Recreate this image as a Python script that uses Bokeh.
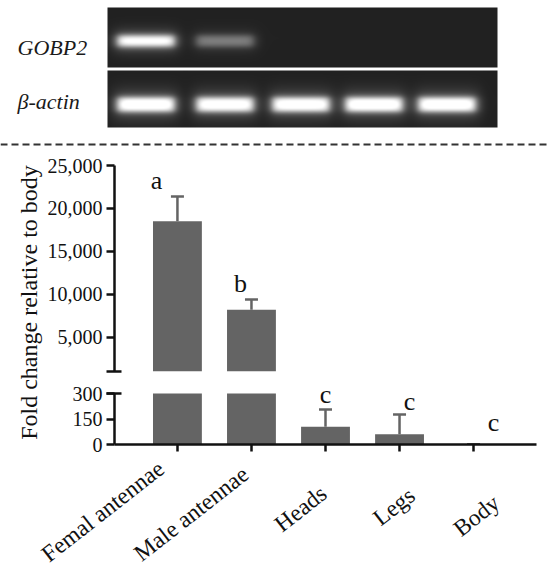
import numpy as np
from math import pi
from bokeh.plotting import figure
from bokeh.layouts import column, row
from bokeh.models import (Range1d, FactorRange, ColumnDataSource, FixedTicker,
                          NumeralTickFormatter, Whisker, TeeHead, LabelSet)
from bokeh.core.properties import value
from bokeh.embed import file_html
from bokeh.resources import INLINE

# ---------------- data ----------------
tissues = ["Femal antennae", "Male antennae", "Heads", "Legs", "Body"]
fold_change = [18500, 8200, 105, 60, 1]
fold_error = [2900, 1200, 101, 116, 0]
letters = ["a", "b", "c", "c", "c"]
gene_names = ["GOBP2", "β-actin"]
gobp2_band = [0.95, 0.38, 0.0, 0.0, 0.0]
actin_band = [1.0, 0.97, 0.98, 1.0, 1.0]
upper_ticks = [5000, 10000, 15000, 20000, 25000]
lower_ticks = [0, 150, 300]
upper_limits = [1000, 25000]
lower_limits = [0, 300]
y_title = "Fold change relative to body"

# ---------------- styles / layout ----------------
SERIF = value("Liberation Serif")
BAR = "#646464"
AX = "#111111"
TXT = "#111111"
letter_dx = [-21, -11, 0, 10, 20]
letter_dy = [7, 7, 6, 5, 13]
label_dx = [-73, -59, -24, -5, 3]        # label centre offset from tick (px)
label_cy = [510.5, 513, 508, 506, 515]   # label centre (page px)
LABEL_ANGLE = 38 * pi / 180

W = 550
LW = 44                     # width of the y-title strip
FRAME_L, FRAME_R = 112, 536
PAD = 0.35
UNIT = (FRAME_R - FRAME_L) / (len(tissues) + 2 * PAD)

# gel layout (pixels)
GEL_X0, GEL_W = 107, 390
LANE_CX = [38, 117, 193, 266, 339]
BAND_W = 57


def gel_image(intensities, h, band_y, band_h):
    yy, xx = np.mgrid[0:h, 0:GEL_W].astype(float)
    img = np.full((h, GEL_W), 29.0)
    img += 5 * np.exp(-((yy - h / 2) / h) ** 2)
    for cx, s in zip(LANE_CX, intensities):
        if s <= 0:
            continue
        fx = 1 / (1 + np.exp(-(BAND_W / 2 - np.abs(xx - cx)) / 2.4))
        fy = 1 / (1 + np.exp(-(band_h / 2 - np.abs(yy - band_y)) / 1.7))
        halo = np.exp(-((np.abs(xx - cx) / (BAND_W / 2 + 6)) ** 6)) * \
            np.exp(-((yy - band_y) / (band_h * 1.1)) ** 2)
        img += s * (200 * fx * fy + 50 * halo)
    v = np.clip(img, 0, 255).astype(np.uint8)
    rgba = np.zeros((h, GEL_W, 4), dtype=np.uint8)
    rgba[..., 0] = v
    rgba[..., 1] = v
    rgba[..., 2] = v
    rgba[..., 3] = 255
    out = rgba.view(np.uint32).reshape(h, GEL_W)[::-1]
    return np.ascontiguousarray(out)


def blank(width, height, xr, yr):
    p = figure(width=width, height=height, x_range=xr, y_range=yr,
               output_backend="svg", toolbar_location=None, x_axis_type=None,
               y_axis_type=None, min_border=0)
    p.outline_line_color = None
    p.grid.visible = False
    return p


# ---------------- gel panel (page y 0..148; fig y = 148 - page y) ----------------
pA = blank(W, 148, Range1d(0, W), Range1d(0, 148))
pA.image_rgba(image=[gel_image(gobp2_band, 60, 33, 11)], x=GEL_X0, y=148 - 67, dw=GEL_W, dh=60)
pA.image_rgba(image=[gel_image(actin_band, 57, 33.5, 14)], x=GEL_X0, y=148 - 127, dw=GEL_W, dh=57)
pA.text(x=[17, 17], y=[148 - 47, 148 - 101], text=gene_names, text_font=SERIF,
        text_font_style="italic", text_font_size="22px", text_color="#1a1a1a",
        text_align="left", text_baseline="alphabetic")
pA.line(x=[0, W], y=[148 - 144, 148 - 144], line_dash="7 4", line_width=2,
        line_color="#333333")

# ---------------- y title panel (page y 148..454) ----------------
pL = blank(LW, 306, Range1d(0, LW), Range1d(0, 306))
pL.text(x=[28], y=[454 - 302], text=[y_title], angle=pi / 2, text_font=SERIF,
        text_font_size="24px", text_color=TXT, text_align="center",
        text_baseline="middle")

# ---------------- chart ----------------
xr = FactorRange(factors=tissues, range_padding=PAD, range_padding_units="absolute")

src = ColumnDataSource(dict(tissue=tissues, fc=fold_change,
                            fc_low=[min(v, lower_limits[1]) for v in fold_change],
                            top=[v + e for v, e in zip(fold_change, fold_error)],
                            letter=letters, dx=letter_dx, dy=letter_dy))
up_idx = [i for i, v in enumerate(fold_change) if v > lower_limits[1]]
lo_idx = [i for i, v in enumerate(fold_change) if v <= lower_limits[1]]


def subset(idx):
    return ColumnDataSource({k: [src.data[k][i] for i in idx] for k in src.data})


src_up, src_lo = subset(up_idx), subset(lo_idx)


def style_yaxis(p, ticks, minor, bounds):
    ax = p.yaxis[0]
    ax.ticker = FixedTicker(ticks=ticks, minor_ticks=minor)
    ax.formatter = NumeralTickFormatter(format="0,0")
    ax.bounds = tuple(bounds)
    ax.axis_line_width = 2.5
    ax.axis_line_color = AX
    ax.major_tick_line_width = 2.5
    ax.major_tick_line_color = AX
    ax.major_tick_in = 0
    ax.major_tick_out = 8
    ax.minor_tick_line_width = 2.5
    ax.minor_tick_line_color = AX
    ax.minor_tick_in = 7
    ax.minor_tick_out = 8
    ax.major_label_standoff = 4
    ax.major_label_text_font = "Liberation Serif"
    ax.major_label_text_font_size = "20px"
    ax.major_label_text_color = TXT


# upper segment: page y 148..373, frame 165..371
pB = figure(width=W - LW, height=225, x_range=xr, y_range=Range1d(*upper_limits),
            output_backend="svg", toolbar_location=None, x_axis_location=None,
            min_border_left=FRAME_L - LW, min_border_right=W - FRAME_R,
            min_border_top=17, min_border_bottom=2)
# lower segment: page y 373..454, frame 373..444 (300 sits at 393)
low_end = lower_limits[1] * (444 - 373) / (444 - 393)
pC = figure(width=W - LW, height=81, x_range=xr, y_range=Range1d(lower_limits[0], low_end),
            output_backend="svg", toolbar_location=None,
            min_border_left=FRAME_L - LW, min_border_right=W - FRAME_R,
            min_border_top=0, min_border_bottom=10)

for p in (pB, pC):
    p.outline_line_color = None
    p.grid.visible = False

pB.vbar(x="tissue", top="fc", bottom=upper_limits[0], width=0.66, source=src_up,
        fill_color=BAR, line_color=None)
pC.vbar(x="tissue", top="fc_low", bottom=0, width=0.66, source=src,
        fill_color=BAR, line_color=None)

style_yaxis(pB, upper_ticks, [upper_limits[0]], upper_limits)
style_yaxis(pC, lower_ticks, [lower_limits[1]], lower_limits)

xa = pC.xaxis[0]
xa.axis_line_width = 2.5
xa.axis_line_color = AX
xa.major_tick_line_width = 2.5
xa.major_tick_line_color = AX
xa.major_tick_in = 0
xa.major_tick_out = 7
xa.major_label_text_color = None
xa.major_label_text_font_size = "1px"
xa.major_label_standoff = 0

for p, s in ((pB, src_up), (pC, src_lo)):
    p.add_layout(Whisker(base="tissue", lower="fc", upper="top", source=s,
                         line_color=BAR, line_width=2.5, lower_head=None,
                         upper_head=TeeHead(size=13, line_color=BAR, line_width=2.5)))
    p.add_layout(LabelSet(x="tissue", y="top", text="letter", source=s,
                          x_offset="dx", y_offset="dy", text_font=SERIF,
                          text_font_size="26px", text_color=TXT,
                          text_align="center", text_baseline="alphabetic"))

# ---------------- category labels (page y 454..567; fig y = 567 - page y) ----------------
pD = blank(W, 113, Range1d(-FRAME_L / UNIT - PAD, (W - FRAME_L) / UNIT - PAD), Range1d(0, 113))
pD.text(x=[i + 0.5 for i in range(len(tissues))], y=[567 - c for c in label_cy],
        text=tissues, x_offset=label_dx, angle=LABEL_ANGLE, text_font=SERIF,
        text_font_size="23.5px", text_color=TXT, text_align="center",
        text_baseline="middle")

layout = column(pA, row(pL, column(pB, pC)), pD)
open("out.html", "w").write(file_html(layout, INLINE))
